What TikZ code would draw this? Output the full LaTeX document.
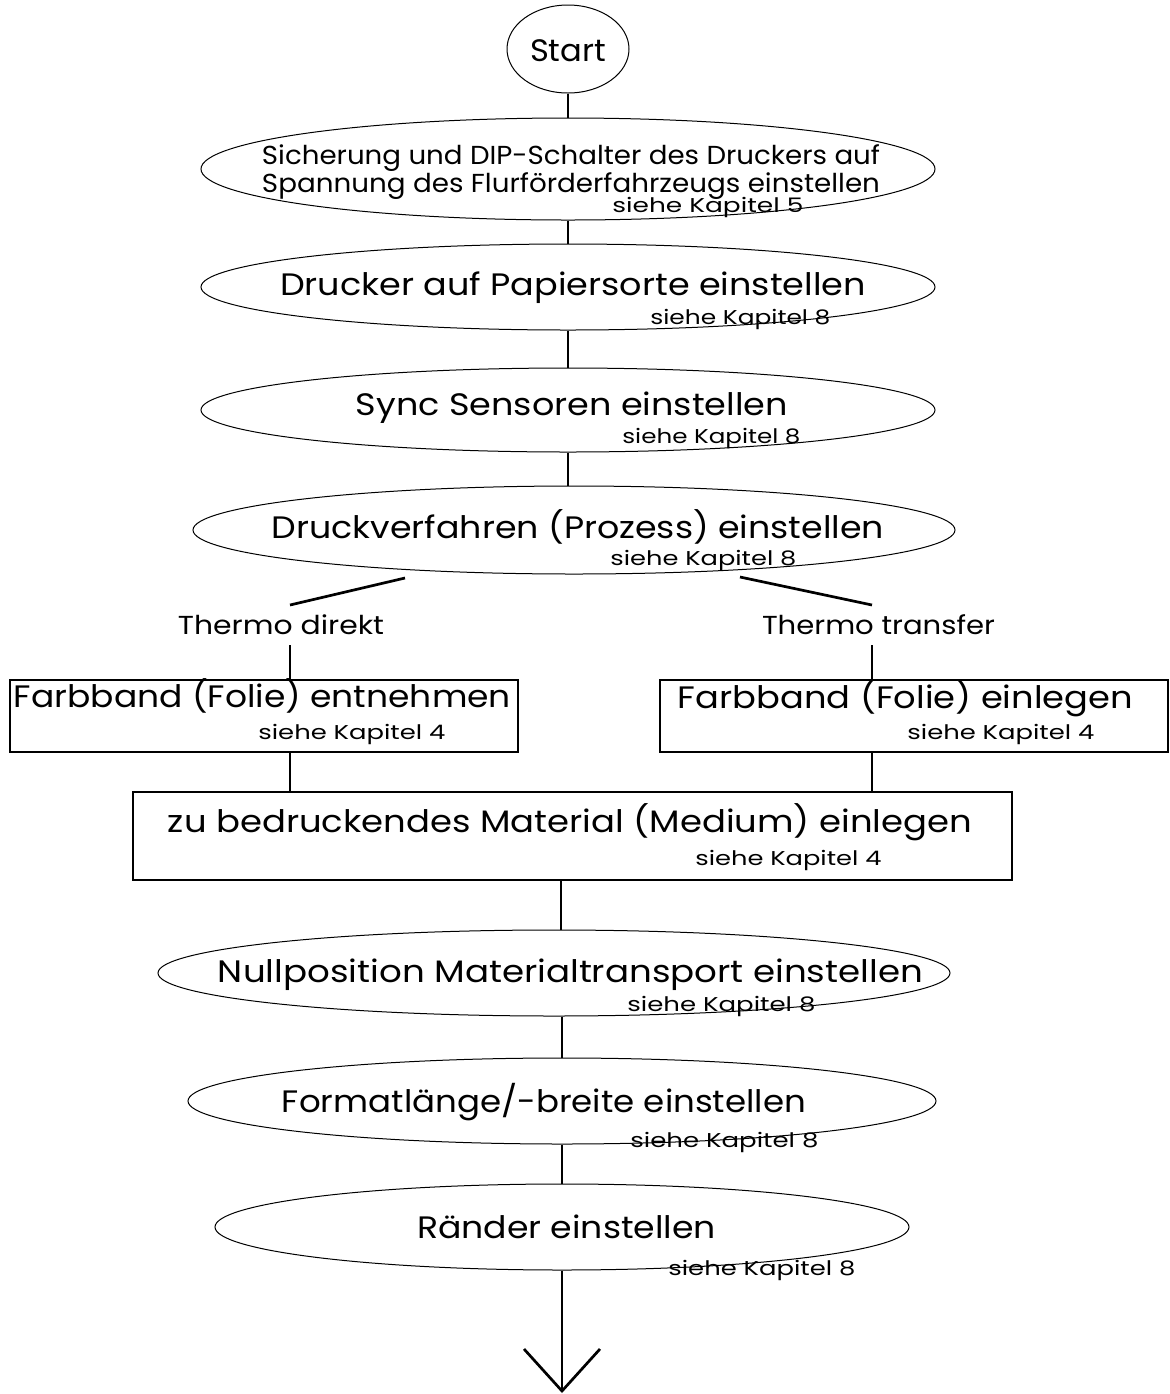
\documentclass[tikz,border=0pt]{standalone}
\usepackage{fontspec}
\setmainfont{Poppins}
\usepackage{graphicx}
\usetikzlibrary{shapes.geometric,arrows.meta,calc}
\newlength\px
\setlength\px{0.5pt}
\newcommand\fitw[2]{\resizebox{#1\px}{\height}{#2}}
\begin{document}
\begin{tikzpicture}[x=0.5pt,y=-0.5pt,
  ell/.style={ellipse, draw, line width=0.5pt, inner sep=0pt},
  box/.style={rectangle, draw, line width=0.7pt, inner sep=0pt},
  main/.style={anchor=base, inner sep=0pt, font=\fontsize{15.5}{18}\selectfont},
  mid/.style={anchor=base, inner sep=0pt, font=\fontsize{13}{15}\selectfont},
  small/.style={anchor=base west, inner sep=0pt, font=\fontsize{10}{12}\selectfont},
  lab/.style={anchor=base, inner sep=4pt, font=\fontsize{13}{15}\selectfont},
  conn/.style={line width=1.35pt}]
\useasboundingbox (0,0) rectangle (1170,1394);

% shapes
\node[ell, minimum width=61pt, minimum height=44pt] (start) at (568,49) {};
\node[ell, minimum width=367pt, minimum height=51pt] (e1) at (568,169) {};
\node[ell, minimum width=367pt, minimum height=43pt] (e2) at (568,287) {};
\node[ell, minimum width=367pt, minimum height=42pt] (e3) at (568,410) {};
\node[ell, minimum width=381pt, minimum height=44pt] (e4) at (574,530) {};
\node[box, minimum width=254pt, minimum height=36pt] (boxL) at (264,716) {};
\node[box, minimum width=254pt, minimum height=36pt] (boxR) at (914,716) {};
\node[box, minimum width=439.5pt, minimum height=44pt] (boxM) at (572.5,836) {};
\node[ell, minimum width=396pt, minimum height=43pt] (e5) at (554,973) {};
\node[ell, minimum width=374pt, minimum height=43pt] (e6) at (562,1101) {};
\node[ell, minimum width=347pt, minimum height=43pt] (e7) at (562,1227) {};

% texts
\node[main] (tStart) at (568,61) {\fitw{76}{Start}};
\node[mid] (t1a) at (571,164) {\fitw{618}{Sicherung und DIP-Schalter des Druckers auf}};
\node[mid] (t1b) at (571,192) {\fitw{618}{Spannung des Flurförderfahrzeugs einstellen}};
\node[small] (s1) at (612,212) {\fitw{191}{siehe Kapitel 5}};
\node[main] (t2) at (573,295) {\fitw{586}{Drucker auf Papiersorte einstellen}};
\node[small] (s2) at (650,324) {\fitw{180}{siehe Kapitel 8}};
\node[main] (t3) at (572,415) {\fitw{432}{Sync Sensoren einstellen}};
\node[small] (s3) at (622,443) {\fitw{178}{siehe Kapitel 8}};
\node[main] (t4) at (578,538) {\fitw{612}{Druckverfahren (Prozess) einstellen}};
\node[small] (s4) at (610,565) {\fitw{186}{siehe Kapitel 8}};
\node[lab] (tl) at (281,634) {\fitw{206}{Thermo direkt}};
\node[lab] (tr) at (878.5,634) {\fitw{233}{Thermo transfer}};
\node[main] (tL) at (262.5,707) {\fitw{497}{Farbband (Folie) entnehmen}};
\node[small] (sL) at (258,739) {\fitw{187}{siehe Kapitel 4}};
\node[main] (tR) at (905.5,708) {\fitw{455}{Farbband (Folie) einlegen}};
\node[small] (sR) at (907,739) {\fitw{187}{siehe Kapitel 4}};
\node[main] (tM) at (570,832) {\fitw{804}{zu bedruckendes Material (Medium) einlegen}};
\node[small] (sM) at (695,865) {\fitw{186}{siehe Kapitel 4}};
\node[main] (t5) at (570.5,982) {\fitw{705}{Nullposition Materialtransport einstellen}};
\node[small] (s5) at (627,1011) {\fitw{188}{siehe Kapitel 8}};
\node[main] (t6) at (544,1112) {\fitw{524}{Formatlänge/-breite einstellen}};
\node[small] (s6) at (630,1147) {\fitw{188}{siehe Kapitel 8}};
\node[main] (t7) at (566.5,1238) {\fitw{299}{Ränder einstellen}};
\node[small] (s7) at (668,1275) {\fitw{187}{siehe Kapitel 8}};

% connector points
\coordinate (bl) at (405,578);
\coordinate (br) at (740,577);
\coordinate (tlN) at (290,605);
\coordinate (trN) at (872,605);
\coordinate (tlS) at (290,645);
\coordinate (trS) at (872,645);
\coordinate (bLS) at ($(boxL.south)+(26,0)$);
\coordinate (bRS) at ($(boxR.south)+(-42,0)$);
\coordinate (bMS) at ($(boxM.south)+(-11.5,0)$);
\coordinate (endpt) at (562,1393);

% connectors
\draw[conn] (start) -- (e1);
\draw[conn] (e1) -- (e2);
\draw[conn] (e2) -- (e3);
\draw[conn] (e3.south) -- (e3.south |- e4.north);
\draw[conn] (bl) -- (tlN);
\draw[conn] (br) -- (trN);
\draw[conn] (tlS) -- (tlS |- boxL.north);
\draw[conn] (trS) -- (trS |- boxR.north);
\draw[conn] (bLS) -- (bLS |- boxM.north);
\draw[conn] (bRS) -- (bRS |- boxM.north);
\draw[conn] (bMS) -- (bMS |- e5.north);
\draw[conn] (e6.north |- e5.south) -- (e6.north);
\draw[conn] (e6) -- (e7);
\draw[conn, -{Straight Barb[length=21pt, width=38pt, line width=1.35pt]}] (e7.south) -- (endpt);
\end{tikzpicture}
\end{document}
